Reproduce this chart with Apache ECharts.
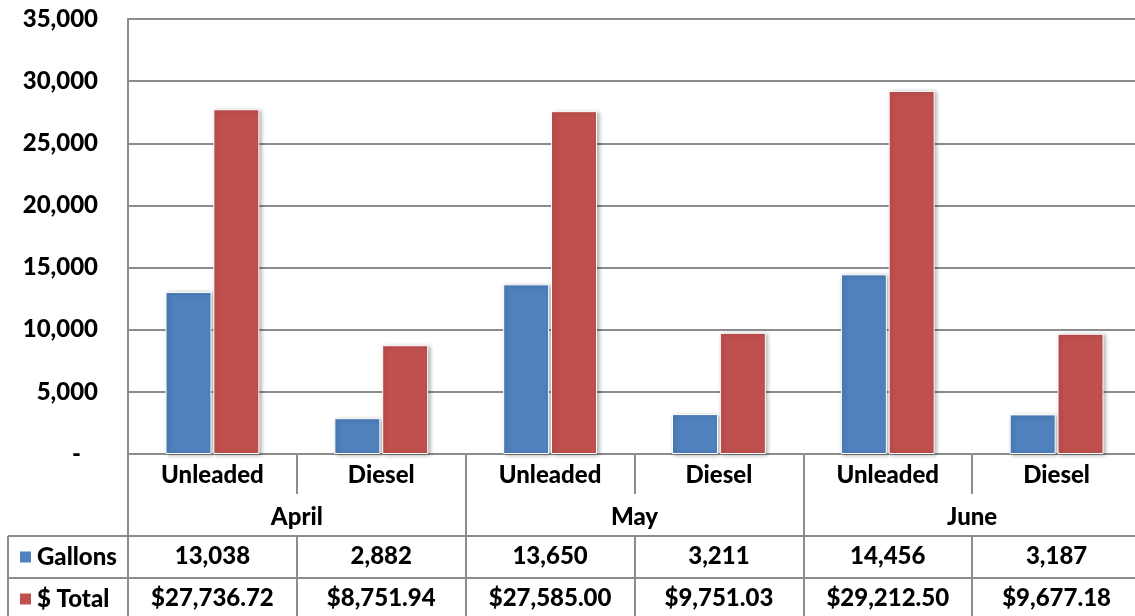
<!DOCTYPE html>
<html lang="en">
<head>
<meta charset="UTF-8">
<title>Fuel</title>
<script src="https://cdn.jsdelivr.net/npm/echarts@6/dist/echarts.min.js"></script>
</head>
<body style="margin:0">
<div id="container" style="width:1135px;height:616px;"></div>
<script>
var fuelTypes = ["Unleaded", "Diesel", "Unleaded", "Diesel", "Unleaded", "Diesel"];
var months = ["April", "May", "June"];
var gallons = [13038, 2882, 13650, 3211, 14456, 3187];
var totals = [27736.72, 8751.94, 27585.00, 9751.03, 29212.50, 9677.18];
var yTicks = [0, 5000, 10000, 15000, 20000, 25000, 30000, 35000];

var FONT = "Lato";
var GRAY = "#8c8c8c";
var lbl = { fontFamily: FONT, fontWeight: 900, fontSize: 24, color: "#000" };

function fmtGal(v) { return v.toLocaleString("en-US"); }
function fmtUsd(v) {
    return "$" + v.toLocaleString("en-US", { minimumFractionDigits: 2, maximumFractionDigits: 2 });
}

var dom = document.getElementById("container");
var myChart = echarts.init(dom, null, { renderer: "canvas" });

function tableAxis(data, offset, tickLen, margin, showLine) {
    return {
        type: "category",
        data: data,
        position: "bottom",
        offset: offset,
        axisLine: { show: showLine, lineStyle: { color: GRAY, width: 2 } },
        axisTick: { show: true, interval: 0, length: tickLen, lineStyle: { color: GRAY, width: 2 } },
        axisLabel: Object.assign({ interval: 0, margin: margin }, lbl)
    };
}

var option = {
    animation: false,
    grid: { left: 128, width: 1013, top: 19, bottom: 162, containLabel: false, outerBoundsMode: "none" },
    legend: {
        data: ["Gallons", "$ Total"],
        orient: "vertical",
        left: 18,
        top: 545,
        padding: 0,
        itemWidth: 13,
        itemHeight: 13,
        itemGap: 18,
        icon: "rect",
        textStyle: lbl
    },
    xAxis: [
        tableAxis(fuelTypes, 0, 40, 9, true),
        tableAxis(months, 0, 82, 51, false),
        tableAxis(gallons.map(fmtGal), 82, 42, 8, true),
        tableAxis(totals.map(fmtUsd), 124, 40, 8, true)
    ],
    yAxis: {
        type: "value",
        min: yTicks[0],
        max: yTicks[yTicks.length - 1],
        interval: yTicks[1] - yTicks[0],
        axisLine: { show: true, lineStyle: { color: GRAY, width: 2 } },
        axisTick: { show: false },
        splitLine: { lineStyle: { color: GRAY, width: 2 } },
        axisLabel: Object.assign({
            margin: 30,
            formatter: function (v) { return v === 0 ? "-   " : v.toLocaleString("en-US"); }
        }, lbl)
    },
    series: [
        {
            name: "Gallons",
            type: "bar",
            data: gallons,
            barWidth: 46,
            barGap: "4%",
            itemStyle: {
                color: "#4f81bd",
                borderColor: "#ffffff",
                borderWidth: 1,
                shadowBlur: 4,
                shadowColor: "rgba(0,0,0,0.3)",
                shadowOffsetX: 2,
                shadowOffsetY: 1
            }
        },
        {
            name: "$ Total",
            type: "bar",
            data: totals,
            barWidth: 46,
            itemStyle: {
                color: "#c0504d",
                borderColor: "#ffffff",
                borderWidth: 1,
                shadowBlur: 4,
                shadowColor: "rgba(0,0,0,0.3)",
                shadowOffsetX: 2,
                shadowOffsetY: 1
            }
        }
    ],
    graphic: [
        { type: "line", shape: { x1: 8, y1: 536, x2: 128, y2: 536 }, style: { stroke: GRAY, lineWidth: 2 } },
        { type: "line", shape: { x1: 8, y1: 578, x2: 128, y2: 578 }, style: { stroke: GRAY, lineWidth: 2 } },
        { type: "line", shape: { x1: 8, y1: 536, x2: 8, y2: 616 }, style: { stroke: GRAY, lineWidth: 2 } }
    ]
};

myChart.setOption(option);
</script>
</body>
</html>
